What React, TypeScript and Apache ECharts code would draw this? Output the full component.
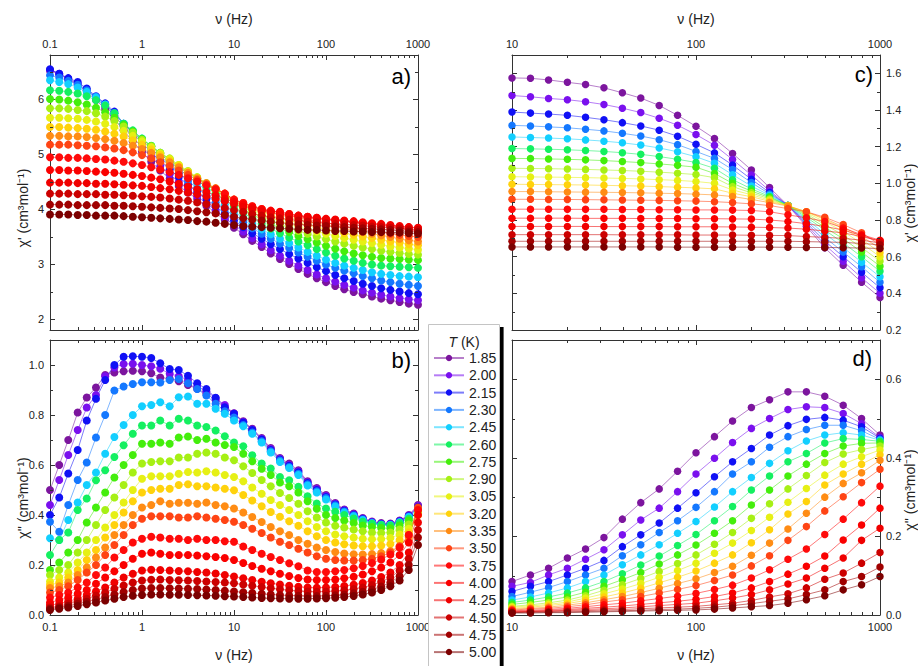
import React, { useEffect, useRef } from 'react';
import * as echarts from 'echarts';

// ---------------- data ----------------
const temperatures = ['1.85', '2.00', '2.15', '2.30', '2.45', '2.60', '2.75', '2.90', '3.05', '3.20', '3.35', '3.50', '3.75', '4.00', '4.25', '4.50', '4.75', '5.00'];

const seriesColors = ['#7C159E', '#7A10EE', '#1010F5', '#1478FF', '#12CFFF', '#14F060', '#44EE0C', '#A6F014', '#E6F014', '#FFD20C', '#FF8C14', '#FF4414', '#FF0A0A', '#FA0000', '#F00000', '#CC0000', '#A00000', '#7C0000'];

// frequencies (Hz) of the left panels a) and b)
const freqLeft = [0.1, 0.126, 0.158, 0.2, 0.251, 0.316, 0.398, 0.501, 0.631, 0.794, 1, 1.26, 1.58, 2, 2.51, 3.16, 3.98, 5.01, 6.31, 7.94, 10, 12.6, 15.8, 20, 25.1, 31.6, 39.8, 50.1, 63.1, 79.4, 100, 126, 158, 200, 251, 316, 398, 501, 631, 794, 1000];
// frequencies (Hz) of the right panels c) and d)
const freqRight = [10, 12.6, 15.8, 20, 25.1, 31.6, 39.8, 50.1, 63.1, 79.4, 100, 126, 158, 200, 251, 316, 398, 501, 631, 794, 1000];

// panel a) chi' , one row per temperature
const chiPrimeA = [
  [6.52, 6.45, 6.36, 6.26, 6.13, 5.98, 5.82, 5.63, 5.43, 5.23, 5.04, 4.86, 4.70, 4.55, 4.42, 4.30, 4.18, 4.06, 3.93, 3.80, 3.66, 3.54, 3.42, 3.31, 3.19, 3.09, 3.00, 2.91, 2.82, 2.74, 2.67, 2.60, 2.54, 2.49, 2.45, 2.41, 2.37, 2.34, 2.31, 2.28, 2.26],
  [6.53, 6.46, 6.37, 6.28, 6.16, 6.02, 5.87, 5.70, 5.50, 5.31, 5.12, 4.94, 4.78, 4.63, 4.49, 4.36, 4.23, 4.10, 3.97, 3.84, 3.71, 3.59, 3.47, 3.36, 3.25, 3.15, 3.06, 2.97, 2.89, 2.81, 2.74, 2.68, 2.62, 2.57, 2.52, 2.48, 2.44, 2.41, 2.38, 2.36, 2.34],
  [6.54, 6.46, 6.38, 6.31, 6.19, 6.05, 5.92, 5.77, 5.55, 5.38, 5.20, 5.03, 4.87, 4.72, 4.58, 4.44, 4.31, 4.18, 4.05, 3.92, 3.79, 3.67, 3.56, 3.46, 3.36, 3.27, 3.18, 3.10, 3.02, 2.94, 2.87, 2.80, 2.74, 2.69, 2.64, 2.60, 2.56, 2.53, 2.50, 2.47, 2.45],
  [6.43, 6.39, 6.33, 6.26, 6.16, 6.04, 5.90, 5.74, 5.55, 5.40, 5.24, 5.09, 4.94, 4.79, 4.65, 4.51, 4.38, 4.25, 4.12, 4.00, 3.87, 3.76, 3.65, 3.55, 3.46, 3.37, 3.29, 3.21, 3.13, 3.06, 2.99, 2.93, 2.88, 2.83, 2.78, 2.74, 2.70, 2.67, 2.64, 2.62, 2.60],
  [6.34, 6.31, 6.27, 6.21, 6.13, 6.03, 5.90, 5.74, 5.55, 5.42, 5.28, 5.14, 5.00, 4.86, 4.73, 4.60, 4.47, 4.34, 4.21, 4.08, 3.95, 3.84, 3.73, 3.63, 3.54, 3.46, 3.38, 3.30, 3.22, 3.15, 3.08, 3.02, 2.97, 2.93, 2.89, 2.85, 2.82, 2.80, 2.78, 2.77, 2.76],
  [6.16, 6.15, 6.13, 6.10, 6.05, 5.98, 5.88, 5.74, 5.55, 5.43, 5.28, 5.15, 5.02, 4.89, 4.76, 4.64, 4.52, 4.40, 4.28, 4.16, 4.04, 3.93, 3.83, 3.73, 3.64, 3.56, 3.48, 3.41, 3.34, 3.27, 3.21, 3.15, 3.10, 3.06, 3.02, 2.99, 2.97, 2.96, 2.95, 2.94, 2.93],
  [6.00, 5.99, 5.97, 5.94, 5.90, 5.84, 5.76, 5.66, 5.53, 5.41, 5.27, 5.14, 5.02, 4.90, 4.78, 4.67, 4.56, 4.45, 4.34, 4.22, 4.10, 4.00, 3.90, 3.81, 3.73, 3.65, 3.58, 3.51, 3.45, 3.39, 3.33, 3.28, 3.23, 3.19, 3.16, 3.13, 3.11, 3.10, 3.09, 3.08, 3.07],
  [5.83, 5.83, 5.82, 5.80, 5.78, 5.74, 5.68, 5.60, 5.50, 5.39, 5.26, 5.14, 5.02, 4.92, 4.80, 4.69, 4.58, 4.47, 4.36, 4.25, 4.13, 4.03, 3.94, 3.86, 3.79, 3.72, 3.66, 3.60, 3.55, 3.50, 3.45, 3.41, 3.37, 3.33, 3.30, 3.27, 3.24, 3.22, 3.20, 3.18, 3.17],
  [5.66, 5.66, 5.65, 5.64, 5.62, 5.59, 5.55, 5.49, 5.42, 5.33, 5.23, 5.12, 5.01, 4.91, 4.80, 4.68, 4.57, 4.46, 4.36, 4.26, 4.15, 4.06, 3.98, 3.91, 3.84, 3.78, 3.73, 3.68, 3.63, 3.59, 3.55, 3.51, 3.47, 3.44, 3.41, 3.38, 3.35, 3.32, 3.30, 3.28, 3.26],
  [5.49, 5.49, 5.48, 5.47, 5.46, 5.44, 5.41, 5.37, 5.32, 5.25, 5.17, 5.08, 4.98, 4.88, 4.78, 4.67, 4.56, 4.46, 4.36, 4.27, 4.16, 4.08, 4.01, 3.95, 3.89, 3.84, 3.79, 3.75, 3.71, 3.67, 3.63, 3.60, 3.56, 3.53, 3.50, 3.47, 3.44, 3.41, 3.39, 3.36, 3.34],
  [5.33, 5.33, 5.32, 5.32, 5.31, 5.29, 5.27, 5.24, 5.20, 5.15, 5.09, 5.02, 4.94, 4.85, 4.76, 4.66, 4.56, 4.47, 4.38, 4.28, 4.17, 4.10, 4.04, 3.99, 3.94, 3.89, 3.85, 3.81, 3.77, 3.74, 3.71, 3.68, 3.64, 3.61, 3.58, 3.55, 3.52, 3.49, 3.46, 3.43, 3.41],
  [5.17, 5.17, 5.17, 5.16, 5.15, 5.14, 5.12, 5.10, 5.07, 5.03, 4.98, 4.92, 4.85, 4.78, 4.70, 4.62, 4.53, 4.45, 4.37, 4.28, 4.17, 4.11, 4.05, 4.00, 3.96, 3.92, 3.88, 3.84, 3.81, 3.78, 3.75, 3.72, 3.69, 3.66, 3.63, 3.60, 3.58, 3.55, 3.53, 3.51, 3.49],
  [4.94, 4.94, 4.93, 4.93, 4.92, 4.91, 4.90, 4.88, 4.86, 4.83, 4.80, 4.76, 4.72, 4.67, 4.62, 4.56, 4.50, 4.43, 4.36, 4.28, 4.17, 4.11, 4.05, 4.00, 3.97, 3.94, 3.91, 3.88, 3.86, 3.84, 3.82, 3.80, 3.78, 3.76, 3.74, 3.72, 3.70, 3.68, 3.66, 3.63, 3.60],
  [4.71, 4.71, 4.70, 4.70, 4.69, 4.68, 4.67, 4.66, 4.64, 4.62, 4.60, 4.57, 4.54, 4.50, 4.46, 4.41, 4.36, 4.31, 4.25, 4.19, 4.13, 4.08, 4.03, 3.99, 3.96, 3.95, 3.91, 3.88, 3.86, 3.84, 3.82, 3.81, 3.79, 3.78, 3.76, 3.74, 3.73, 3.71, 3.69, 3.67, 3.66],
  [4.48, 4.48, 4.48, 4.47, 4.47, 4.46, 4.46, 4.45, 4.44, 4.43, 4.42, 4.40, 4.38, 4.36, 4.33, 4.30, 4.27, 4.23, 4.19, 4.14, 4.09, 4.04, 4.00, 3.96, 3.93, 3.90, 3.88, 3.86, 3.84, 3.82, 3.80, 3.79, 3.77, 3.76, 3.74, 3.73, 3.71, 3.70, 3.68, 3.67, 3.65],
  [4.28, 4.28, 4.28, 4.27, 4.27, 4.27, 4.26, 4.26, 4.25, 4.24, 4.23, 4.22, 4.21, 4.19, 4.17, 4.15, 4.12, 4.09, 4.06, 4.02, 3.98, 3.95, 3.91, 3.88, 3.85, 3.83, 3.81, 3.79, 3.77, 3.76, 3.74, 3.73, 3.72, 3.71, 3.70, 3.68, 3.67, 3.66, 3.65, 3.63, 3.62],
  [4.08, 4.08, 4.08, 4.07, 4.07, 4.07, 4.07, 4.06, 4.06, 4.05, 4.04, 4.03, 4.02, 4.01, 4.00, 3.98, 3.96, 3.94, 3.92, 3.89, 3.86, 3.83, 3.81, 3.79, 3.77, 3.75, 3.73, 3.72, 3.71, 3.70, 3.69, 3.68, 3.67, 3.66, 3.65, 3.64, 3.63, 3.62, 3.61, 3.59, 3.58],
  [3.90, 3.90, 3.90, 3.89, 3.89, 3.88, 3.88, 3.88, 3.87, 3.86, 3.85, 3.84, 3.83, 3.82, 3.81, 3.80, 3.78, 3.77, 3.75, 3.73, 3.71, 3.69, 3.68, 3.67, 3.66, 3.65, 3.64, 3.63, 3.62, 3.62, 3.61, 3.60, 3.60, 3.59, 3.59, 3.58, 3.58, 3.57, 3.57, 3.56, 3.55],
];

// panel b) chi'' , one row per temperature
const chiDoublePrimeB = [
  [0.50, 0.60, 0.70, 0.81, 0.87, 0.91, 0.96, 0.97, 0.975, 0.977, 0.975, 0.967, 0.950, 0.945, 0.935, 0.920, 0.905, 0.885, 0.860, 0.830, 0.807, 0.775, 0.745, 0.708, 0.668, 0.628, 0.606, 0.579, 0.535, 0.508, 0.480, 0.448, 0.422, 0.406, 0.388, 0.374, 0.368, 0.366, 0.378, 0.400, 0.440],
  [0.44, 0.54, 0.64, 0.74, 0.83, 0.88, 0.955, 0.99, 1.004, 1.005, 1.000, 0.995, 0.985, 0.965, 0.955, 0.940, 0.915, 0.895, 0.868, 0.840, 0.806, 0.772, 0.742, 0.705, 0.664, 0.625, 0.600, 0.575, 0.531, 0.504, 0.476, 0.445, 0.420, 0.403, 0.386, 0.372, 0.365, 0.364, 0.376, 0.398, 0.436],
  [0.40, 0.47, 0.566, 0.66, 0.778, 0.865, 0.94, 1.00, 1.033, 1.035, 1.033, 1.028, 1.007, 0.984, 0.980, 0.957, 0.927, 0.904, 0.869, 0.831, 0.805, 0.770, 0.740, 0.702, 0.660, 0.622, 0.597, 0.571, 0.528, 0.500, 0.472, 0.442, 0.417, 0.400, 0.384, 0.370, 0.363, 0.362, 0.374, 0.396, 0.432],
  [0.373, 0.333, 0.44, 0.54, 0.61, 0.71, 0.80, 0.898, 0.914, 0.924, 0.931, 0.931, 0.930, 0.940, 0.944, 0.927, 0.904, 0.878, 0.845, 0.815, 0.790, 0.760, 0.730, 0.695, 0.655, 0.618, 0.592, 0.565, 0.523, 0.495, 0.468, 0.439, 0.414, 0.398, 0.382, 0.369, 0.362, 0.361, 0.372, 0.394, 0.428],
  [0.307, 0.30, 0.38, 0.45, 0.52, 0.57, 0.645, 0.712, 0.76, 0.80, 0.835, 0.840, 0.851, 0.835, 0.871, 0.874, 0.845, 0.845, 0.825, 0.805, 0.778, 0.755, 0.725, 0.690, 0.650, 0.612, 0.588, 0.560, 0.518, 0.490, 0.462, 0.434, 0.410, 0.395, 0.380, 0.367, 0.361, 0.360, 0.371, 0.392, 0.425],
  [0.24, 0.30, 0.33, 0.42, 0.466, 0.539, 0.579, 0.632, 0.679, 0.725, 0.758, 0.758, 0.778, 0.758, 0.785, 0.778, 0.758, 0.752, 0.738, 0.715, 0.69, 0.675, 0.639, 0.606, 0.586, 0.552, 0.539, 0.513, 0.475, 0.446, 0.426, 0.413, 0.400, 0.386, 0.373, 0.365, 0.360, 0.358, 0.368, 0.385, 0.42],
  [0.18, 0.21, 0.25, 0.30, 0.37, 0.43, 0.49, 0.55, 0.60, 0.64, 0.685, 0.685, 0.690, 0.685, 0.71, 0.714, 0.70, 0.705, 0.69, 0.68, 0.672, 0.645, 0.615, 0.585, 0.560, 0.530, 0.515, 0.490, 0.455, 0.425, 0.40, 0.388, 0.378, 0.368, 0.358, 0.352, 0.348, 0.347, 0.358, 0.378, 0.415],
  [0.16, 0.18, 0.20, 0.25, 0.30, 0.36, 0.42, 0.47, 0.52, 0.57, 0.606, 0.612, 0.615, 0.615, 0.63, 0.63, 0.645, 0.65, 0.645, 0.63, 0.619, 0.595, 0.568, 0.540, 0.515, 0.488, 0.468, 0.445, 0.415, 0.39, 0.37, 0.357, 0.350, 0.342, 0.335, 0.330, 0.328, 0.330, 0.342, 0.362, 0.405],
  [0.134, 0.15, 0.17, 0.21, 0.25, 0.30, 0.35, 0.40, 0.45, 0.50, 0.545, 0.555, 0.555, 0.555, 0.565, 0.572, 0.57, 0.575, 0.57, 0.56, 0.552, 0.535, 0.510, 0.485, 0.460, 0.440, 0.420, 0.400, 0.375, 0.352, 0.335, 0.322, 0.315, 0.310, 0.305, 0.303, 0.304, 0.308, 0.322, 0.345, 0.40],
  [0.12, 0.13, 0.15, 0.18, 0.22, 0.26, 0.31, 0.36, 0.41, 0.455, 0.49, 0.50, 0.505, 0.505, 0.52, 0.523, 0.515, 0.515, 0.51, 0.505, 0.499, 0.480, 0.458, 0.435, 0.412, 0.393, 0.375, 0.357, 0.335, 0.315, 0.30, 0.290, 0.283, 0.278, 0.275, 0.275, 0.278, 0.284, 0.300, 0.330, 0.40],
  [0.108, 0.115, 0.13, 0.16, 0.19, 0.23, 0.27, 0.32, 0.36, 0.40, 0.43, 0.44, 0.455, 0.445, 0.449, 0.449, 0.445, 0.45, 0.44, 0.435, 0.426, 0.41, 0.392, 0.372, 0.352, 0.335, 0.32, 0.30, 0.285, 0.27, 0.26, 0.252, 0.246, 0.243, 0.242, 0.244, 0.248, 0.256, 0.275, 0.31, 0.42],
  [0.09, 0.10, 0.115, 0.14, 0.17, 0.20, 0.24, 0.28, 0.32, 0.36, 0.385, 0.395, 0.395, 0.395, 0.39, 0.39, 0.395, 0.39, 0.385, 0.38, 0.373, 0.36, 0.345, 0.328, 0.31, 0.293, 0.28, 0.265, 0.25, 0.235, 0.225, 0.22, 0.218, 0.218, 0.22, 0.225, 0.235, 0.25, 0.275, 0.32, 0.43],
  [0.07, 0.08, 0.09, 0.11, 0.13, 0.16, 0.19, 0.23, 0.26, 0.29, 0.305, 0.313, 0.31, 0.305, 0.305, 0.30, 0.305, 0.30, 0.30, 0.295, 0.293, 0.274, 0.26, 0.245, 0.232, 0.22, 0.207, 0.195, 0.178, 0.172, 0.172, 0.175, 0.18, 0.187, 0.196, 0.208, 0.222, 0.242, 0.27, 0.32, 0.42],
  [0.05, 0.06, 0.07, 0.085, 0.10, 0.125, 0.15, 0.175, 0.20, 0.225, 0.245, 0.25, 0.245, 0.24, 0.24, 0.24, 0.238, 0.235, 0.232, 0.228, 0.22, 0.208, 0.196, 0.185, 0.175, 0.165, 0.156, 0.148, 0.142, 0.14, 0.14, 0.142, 0.147, 0.153, 0.162, 0.175, 0.19, 0.21, 0.24, 0.29, 0.40],
  [0.04, 0.045, 0.055, 0.065, 0.08, 0.095, 0.11, 0.13, 0.15, 0.165, 0.178, 0.181, 0.18, 0.178, 0.176, 0.175, 0.172, 0.17, 0.166, 0.16, 0.154, 0.147, 0.14, 0.133, 0.127, 0.122, 0.117, 0.113, 0.11, 0.109, 0.11, 0.112, 0.116, 0.121, 0.128, 0.138, 0.152, 0.17, 0.2, 0.25, 0.37],
  [0.03, 0.035, 0.045, 0.055, 0.065, 0.078, 0.09, 0.105, 0.118, 0.13, 0.138, 0.141, 0.142, 0.14, 0.139, 0.138, 0.136, 0.134, 0.132, 0.13, 0.127, 0.122, 0.117, 0.112, 0.107, 0.103, 0.099, 0.096, 0.094, 0.093, 0.094, 0.096, 0.099, 0.104, 0.11, 0.12, 0.133, 0.15, 0.178, 0.225, 0.34],
  [0.025, 0.03, 0.037, 0.045, 0.053, 0.062, 0.072, 0.082, 0.092, 0.1, 0.106, 0.108, 0.108, 0.107, 0.106, 0.105, 0.104, 0.102, 0.1, 0.097, 0.094, 0.091, 0.088, 0.085, 0.082, 0.08, 0.078, 0.077, 0.076, 0.076, 0.077, 0.079, 0.082, 0.087, 0.093, 0.102, 0.114, 0.13, 0.155, 0.2, 0.31],
  [0.02, 0.025, 0.03, 0.036, 0.043, 0.05, 0.058, 0.065, 0.072, 0.077, 0.08, 0.082, 0.082, 0.081, 0.081, 0.08, 0.079, 0.078, 0.077, 0.075, 0.074, 0.072, 0.07, 0.068, 0.067, 0.066, 0.065, 0.065, 0.065, 0.066, 0.067, 0.069, 0.072, 0.076, 0.082, 0.09, 0.1, 0.115, 0.138, 0.18, 0.28],
];

// panel c) chi' , one row per temperature
const chiPrimeC = [
  [1.575, 1.573, 1.564, 1.551, 1.539, 1.521, 1.494, 1.465, 1.425, 1.371, 1.311, 1.244, 1.163, 1.073, 0.977, 0.879, 0.765, 0.648, 0.553, 0.461, 0.377],
  [1.479, 1.472, 1.463, 1.456, 1.445, 1.430, 1.410, 1.386, 1.355, 1.317, 1.266, 1.208, 1.130, 1.045, 0.960, 0.879, 0.775, 0.665, 0.575, 0.485, 0.400],
  [1.389, 1.383, 1.378, 1.371, 1.360, 1.347, 1.331, 1.313, 1.290, 1.257, 1.213, 1.166, 1.100, 1.022, 0.950, 0.879, 0.785, 0.685, 0.600, 0.515, 0.430],
  [1.316, 1.313, 1.308, 1.303, 1.295, 1.286, 1.273, 1.258, 1.238, 1.211, 1.174, 1.136, 1.075, 1.004, 0.942, 0.879, 0.795, 0.705, 0.625, 0.545, 0.460],
  [1.253, 1.250, 1.247, 1.243, 1.237, 1.230, 1.221, 1.209, 1.193, 1.172, 1.145, 1.109, 1.047, 0.985, 0.935, 0.879, 0.805, 0.725, 0.650, 0.570, 0.490],
  [1.190, 1.188, 1.186, 1.183, 1.179, 1.174, 1.167, 1.158, 1.146, 1.131, 1.114, 1.082, 1.020, 0.970, 0.928, 0.879, 0.815, 0.745, 0.675, 0.600, 0.520],
  [1.136, 1.135, 1.133, 1.131, 1.128, 1.124, 1.119, 1.113, 1.106, 1.098, 1.088, 1.054, 1.000, 0.958, 0.922, 0.879, 0.825, 0.760, 0.698, 0.625, 0.548],
  [1.082, 1.081, 1.080, 1.078, 1.076, 1.073, 1.070, 1.066, 1.061, 1.055, 1.048, 1.031, 0.982, 0.948, 0.915, 0.879, 0.833, 0.775, 0.718, 0.650, 0.575],
  [1.036, 1.035, 1.034, 1.033, 1.031, 1.029, 1.027, 1.024, 1.020, 1.016, 1.010, 1.000, 0.964, 0.938, 0.908, 0.879, 0.840, 0.790, 0.738, 0.672, 0.600],
  [0.995, 0.994, 0.993, 0.992, 0.991, 0.989, 0.987, 0.985, 0.982, 0.979, 0.975, 0.970, 0.946, 0.927, 0.902, 0.878, 0.845, 0.802, 0.755, 0.695, 0.622],
  [0.955, 0.955, 0.954, 0.953, 0.952, 0.951, 0.950, 0.948, 0.946, 0.944, 0.941, 0.937, 0.928, 0.912, 0.895, 0.876, 0.845, 0.808, 0.762, 0.710, 0.645],
  [0.913, 0.913, 0.912, 0.912, 0.911, 0.910, 0.909, 0.908, 0.907, 0.905, 0.903, 0.900, 0.895, 0.888, 0.879, 0.862, 0.845, 0.815, 0.775, 0.730, 0.665],
  [0.859, 0.859, 0.859, 0.858, 0.858, 0.858, 0.857, 0.857, 0.856, 0.856, 0.855, 0.855, 0.854, 0.852, 0.845, 0.828, 0.812, 0.792, 0.756, 0.720, 0.690],
  [0.810, 0.810, 0.810, 0.810, 0.809, 0.809, 0.809, 0.808, 0.808, 0.808, 0.807, 0.807, 0.806, 0.805, 0.800, 0.792, 0.780, 0.765, 0.745, 0.715, 0.685],
  [0.765, 0.765, 0.765, 0.765, 0.765, 0.764, 0.764, 0.764, 0.764, 0.763, 0.763, 0.763, 0.762, 0.761, 0.759, 0.756, 0.750, 0.740, 0.730, 0.710, 0.685],
  [0.720, 0.720, 0.720, 0.720, 0.720, 0.720, 0.719, 0.719, 0.719, 0.719, 0.718, 0.718, 0.718, 0.717, 0.716, 0.715, 0.710, 0.705, 0.700, 0.690, 0.675],
  [0.684, 0.684, 0.684, 0.684, 0.684, 0.684, 0.684, 0.684, 0.684, 0.684, 0.684, 0.684, 0.684, 0.684, 0.684, 0.684, 0.682, 0.680, 0.678, 0.672, 0.665],
  [0.653, 0.653, 0.653, 0.653, 0.653, 0.653, 0.653, 0.653, 0.653, 0.652, 0.652, 0.652, 0.652, 0.652, 0.652, 0.651, 0.650, 0.650, 0.649, 0.647, 0.645],
];

// panel d) chi'' , one row per temperature
const chiDoublePrimeD = [
  [0.085, 0.102, 0.119, 0.145, 0.168, 0.197, 0.244, 0.286, 0.321, 0.366, 0.413, 0.454, 0.494, 0.528, 0.548, 0.568, 0.568, 0.557, 0.534, 0.500, 0.458],
  [0.073, 0.083, 0.102, 0.119, 0.142, 0.166, 0.204, 0.242, 0.272, 0.314, 0.359, 0.399, 0.439, 0.475, 0.500, 0.523, 0.530, 0.528, 0.513, 0.487, 0.452],
  [0.060, 0.073, 0.085, 0.102, 0.119, 0.139, 0.174, 0.204, 0.234, 0.272, 0.311, 0.352, 0.390, 0.424, 0.458, 0.482, 0.498, 0.503, 0.496, 0.479, 0.450],
  [0.047, 0.058, 0.070, 0.085, 0.102, 0.119, 0.151, 0.179, 0.210, 0.240, 0.274, 0.314, 0.359, 0.390, 0.427, 0.454, 0.472, 0.483, 0.483, 0.469, 0.447],
  [0.038, 0.046, 0.056, 0.069, 0.085, 0.102, 0.128, 0.153, 0.179, 0.208, 0.238, 0.275, 0.314, 0.350, 0.386, 0.418, 0.443, 0.458, 0.464, 0.458, 0.445],
  [0.032, 0.038, 0.046, 0.056, 0.069, 0.085, 0.105, 0.127, 0.150, 0.177, 0.205, 0.240, 0.276, 0.318, 0.354, 0.390, 0.411, 0.438, 0.449, 0.447, 0.442],
  [0.027, 0.032, 0.038, 0.046, 0.058, 0.073, 0.090, 0.108, 0.130, 0.153, 0.178, 0.208, 0.240, 0.280, 0.318, 0.354, 0.384, 0.411, 0.430, 0.437, 0.438],
  [0.022, 0.026, 0.031, 0.038, 0.049, 0.063, 0.077, 0.093, 0.111, 0.131, 0.153, 0.180, 0.210, 0.246, 0.283, 0.321, 0.355, 0.388, 0.410, 0.421, 0.430],
  [0.020, 0.023, 0.027, 0.033, 0.043, 0.054, 0.066, 0.080, 0.096, 0.113, 0.132, 0.157, 0.183, 0.215, 0.249, 0.287, 0.322, 0.356, 0.384, 0.403, 0.420],
  [0.017, 0.020, 0.024, 0.029, 0.037, 0.046, 0.056, 0.068, 0.082, 0.096, 0.112, 0.132, 0.153, 0.184, 0.217, 0.257, 0.289, 0.331, 0.359, 0.384, 0.408],
  [0.015, 0.017, 0.020, 0.025, 0.031, 0.039, 0.047, 0.057, 0.068, 0.080, 0.092, 0.108, 0.124, 0.152, 0.183, 0.219, 0.259, 0.300, 0.335, 0.362, 0.394],
  [0.013, 0.015, 0.017, 0.021, 0.026, 0.033, 0.039, 0.047, 0.056, 0.065, 0.075, 0.088, 0.102, 0.125, 0.151, 0.190, 0.225, 0.265, 0.301, 0.337, 0.371],
  [0.011, 0.012, 0.014, 0.017, 0.021, 0.026, 0.030, 0.036, 0.042, 0.048, 0.055, 0.065, 0.076, 0.094, 0.115, 0.142, 0.168, 0.205, 0.244, 0.286, 0.328],
  [0.009, 0.010, 0.012, 0.014, 0.017, 0.020, 0.023, 0.027, 0.031, 0.035, 0.040, 0.047, 0.056, 0.069, 0.085, 0.104, 0.124, 0.150, 0.191, 0.229, 0.272],
  [0.008, 0.009, 0.010, 0.012, 0.014, 0.016, 0.018, 0.021, 0.024, 0.027, 0.030, 0.036, 0.043, 0.052, 0.064, 0.079, 0.094, 0.119, 0.145, 0.190, 0.221],
  [0.007, 0.008, 0.009, 0.010, 0.011, 0.013, 0.014, 0.016, 0.018, 0.020, 0.022, 0.026, 0.030, 0.037, 0.046, 0.054, 0.069, 0.091, 0.107, 0.132, 0.159],
  [0.006, 0.007, 0.007, 0.008, 0.009, 0.010, 0.011, 0.012, 0.014, 0.015, 0.017, 0.020, 0.024, 0.029, 0.035, 0.041, 0.052, 0.064, 0.085, 0.098, 0.122],
  [0.005, 0.005, 0.006, 0.006, 0.007, 0.008, 0.009, 0.010, 0.011, 0.012, 0.013, 0.015, 0.018, 0.021, 0.024, 0.030, 0.039, 0.049, 0.064, 0.077, 0.098],
];

// minor tick positions
const minorFreqLeft = [0.2, 0.3, 0.4, 0.5, 0.6, 0.7, 0.8, 0.9, 2, 3, 4, 5, 6, 7, 8, 9, 20, 30, 40, 50, 60, 70, 80, 90, 200, 300, 400, 500, 600, 700, 800, 900];
const minorFreqRight = [20, 30, 40, 50, 60, 70, 80, 90, 200, 300, 400, 500, 600, 700, 800, 900];
const minorYA = [2.5, 3.5, 4.5, 5.5, 6.5];
const minorYB = [0.1, 0.3, 0.5, 0.7, 0.9];
const minorYC = [0.3, 0.5, 0.7, 0.9, 1.1, 1.3, 1.5];
const minorYD = [0.1, 0.3, 0.5];

// ---------------- chart ----------------
const FONT = "'Liberation Sans', Arial, Helvetica, sans-serif";
const AXIS_COLOR = '#333';
const TEXT_COLOR = '#222';

const panels = [
  { left: 50, top: 55, xMin: 0.1, xMax: 1000, yMin: 1.8, yMax: 6.8, yInterval: undefined as any, xLab: 'top', yLab: 'left', freqs: freqLeft, values: chiPrimeA, minorX: minorFreqLeft, minorY: minorYA, yFmt: (v: number) => String(Math.round(v)), showMin: false, sym: 8 },
  { left: 50, top: 340, xMin: 0.1, xMax: 1000, yMin: 0, yMax: 1.1, yInterval: 0.2, xLab: 'bottom', yLab: 'left', freqs: freqLeft, values: chiDoublePrimeB, minorX: minorFreqLeft, minorY: minorYB, yFmt: (v: number) => v.toFixed(1), showMin: true, sym: 8 },
  { left: 512, top: 55, xMin: 10, xMax: 1000, yMin: 0.2, yMax: 1.7, yInterval: 0.2, xLab: 'top', yLab: 'right', freqs: freqRight, values: chiPrimeC, minorX: minorFreqRight, minorY: minorYC, yFmt: (v: number) => v.toFixed(1), showMin: true, sym: 7.5 },
  { left: 512, top: 340, xMin: 10, xMax: 1000, yMin: 0, yMax: 0.7, yInterval: 0.2, xLab: 'bottom', yLab: 'right', freqs: freqRight, values: chiDoublePrimeD, minorX: minorFreqRight, minorY: minorYD, yFmt: (v: number) => v.toFixed(1), showMin: true, sym: 7.5 },
];

const PW = 368;
const PH = 275;

function buildOption(): any {
  const grid: any[] = [];
  const xAxis: any[] = [];
  const yAxis: any[] = [];
  const series: any[] = [];

  panels.forEach((p, gi) => {
    grid.push({ left: p.left, top: p.top, width: PW, height: PH, containLabel: false });
    ['bottom', 'top'].forEach((pos) => {
      const labeled = pos === p.xLab;
      xAxis.push({
        type: 'log', logBase: 10, gridIndex: gi, position: pos, min: p.xMin, max: p.xMax,
        name: labeled ? 'ν (Hz)' : '', nameLocation: 'middle', nameGap: pos === 'top' ? 29 : 33,
        nameTextStyle: { fontSize: 14, fontFamily: FONT, color: TEXT_COLOR },
        axisLine: { show: true, onZero: false, lineStyle: { color: AXIS_COLOR, width: 1 } },
        axisTick: { show: true, inside: true, length: 5, lineStyle: { color: AXIS_COLOR, width: 1 } },
        minorTick: { show: false },
        axisLabel: { show: labeled, fontSize: 11, margin: 6, color: TEXT_COLOR, fontFamily: FONT, formatter: (v: number) => String(+Number(v).toPrecision(6)) },
        splitLine: { show: false },
      });
    });
    ['left', 'right'].forEach((pos) => {
      const labeled = pos === p.yLab;
      const ax: any = {
        type: 'value', gridIndex: gi, position: pos, min: p.yMin, max: p.yMax,
        axisLine: { show: true, onZero: false, lineStyle: { color: AXIS_COLOR, width: 1 } },
        axisTick: { show: true, inside: true, length: 5, lineStyle: { color: AXIS_COLOR, width: 1 } },
        minorTick: { show: false },
        axisLabel: { show: labeled, showMinLabel: p.showMin, showMaxLabel: false, fontSize: 11, margin: 6, color: TEXT_COLOR, fontFamily: FONT, formatter: p.yFmt },
        splitLine: { show: false },
      };
      if (p.yInterval) ax.interval = p.yInterval;
      else ax.splitNumber = 5;
      yAxis.push(ax);
    });

    p.values.forEach((row, k) => {
      series.push({
        type: 'line', name: temperatures[k], xAxisIndex: gi * 2, yAxisIndex: gi * 2,
        data: p.freqs.map((f, i) => [f, row[i]]),
        symbol: 'circle', symbolSize: p.sym, showSymbol: true, showAllSymbol: true,
        itemStyle: { color: seriesColors[k] },
        lineStyle: { color: seriesColors[k], width: 1, opacity: 0.55 },
        emphasis: { disabled: true },
        clip: true,
        z: 2,
      });
    });

    // minor ticks on all four sides, positioned through the axes
    const tickData: any[] = [];
    p.minorX.forEach((f) => tickData.push([f, p.yMin, 0]));
    p.minorY.forEach((v) => tickData.push([p.xMin, v, 1]));
    series.push({
      type: 'custom', xAxisIndex: gi * 2, yAxisIndex: gi * 2, silent: true, z: 5,
      data: tickData,
      renderItem: (params: any, api: any) => {
        const cs = params.coordSys;
        const kind = api.value(2);
        const pt = api.coord([api.value(0), api.value(1)]);
        const st = { stroke: AXIS_COLOR, lineWidth: 1 };
        const L = 3;
        if (kind === 0) {
          const x = Math.round(pt[0]) + 0.5;
          return { type: 'group', children: [
            { type: 'line', shape: { x1: x, y1: cs.y, x2: x, y2: cs.y + L }, style: st },
            { type: 'line', shape: { x1: x, y1: cs.y + cs.height, x2: x, y2: cs.y + cs.height - L }, style: st },
          ] };
        }
        const y = Math.round(pt[1]) + 0.5;
        return { type: 'group', children: [
          { type: 'line', shape: { x1: cs.x, y1: y, x2: cs.x + L, y2: y }, style: st },
          { type: 'line', shape: { x1: cs.x + cs.width, y1: y, x2: cs.x + cs.width - L, y2: y }, style: st },
        ] };
      },
    });
  });

  const yNameStyle = { fontSize: 14, fontFamily: FONT, fill: TEXT_COLOR, align: 'center', verticalAlign: 'middle' };
  const letterStyle = { fontSize: 22, fontFamily: FONT, fill: '#000', align: 'right', verticalAlign: 'middle' };

  const graphic: any[] = [
    { type: 'text', x: 22.5, y: 208, rotation: Math.PI / 2, style: { ...yNameStyle, text: "χ' (cm³mol⁻¹)" } },
    { type: 'text', x: 22.5, y: 498, rotation: Math.PI / 2, style: { ...yNameStyle, text: "χ'' (cm³mol⁻¹)" } },
    { type: 'text', x: 910, y: 203, rotation: Math.PI / 2, style: { ...yNameStyle, text: "χ' (cm³mol⁻¹)" } },
    { type: 'text', x: 910, y: 490, rotation: Math.PI / 2, style: { ...yNameStyle, text: "χ'' (cm³mol⁻¹)" } },
    { type: 'text', x: 411, y: 76, style: { ...letterStyle, text: 'a)' } },
    { type: 'text', x: 411, y: 360, style: { ...letterStyle, text: 'b)' } },
    { type: 'text', x: 873, y: 74, style: { ...letterStyle, text: 'c)' } },
    { type: 'text', x: 872, y: 358, style: { ...letterStyle, text: 'd)' } },
    { type: 'rect', z: 100, shape: { x: 428.5, y: 324.5, width: 71, height: 360 }, style: { fill: '#fff', stroke: '#c4c4c4', lineWidth: 1 } },
    { type: 'rect', z: 102, shape: { x: 500, y: 327, width: 3.6, height: 345 }, style: { fill: '#000' } },
    { type: 'text', z: 102, x: 464, y: 342, style: { text: '{i|T} (K)', fontSize: 14, fontFamily: FONT, fill: TEXT_COLOR, align: 'center', verticalAlign: 'middle', rich: { i: { fontStyle: 'italic', fontSize: 14, fontFamily: FONT, fill: TEXT_COLOR } } } },
  ];

  return {
    animation: false,
    backgroundColor: '#ffffff',
    grid, xAxis, yAxis, series, graphic,
    legend: {
      data: temperatures, orient: 'vertical', left: 433, top: 351, z: 110,
      itemWidth: 30, itemHeight: 8, itemGap: 3.3, padding: 0, selectedMode: false,
      textStyle: { fontSize: 14, lineHeight: 14, fontFamily: FONT, color: TEXT_COLOR },
    },
  };
}

export default function App() {
  const ref = useRef<HTMLDivElement>(null);
  useEffect(() => {
    if (!ref.current) return;
    const chart = echarts.init(ref.current, undefined, { renderer: 'svg' });
    chart.setOption(buildOption());
    return () => chart.dispose();
  }, []);
  return <div ref={ref} style={{ position: 'fixed', left: 0, top: 0, width: 918, height: 666, background: '#fff' }} />;
}
